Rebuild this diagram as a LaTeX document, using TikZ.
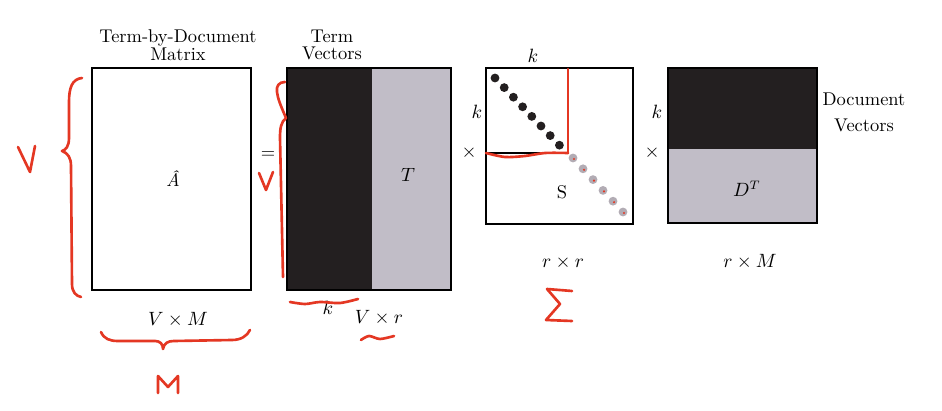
\documentclass[tikz,border=0pt]{standalone}
\usepackage{xcolor}
\definecolor{darkblock}{RGB}{35,31,32}
\definecolor{lightblock}{RGB}{193,189,199}
\definecolor{dotgray}{RGB}{178,172,180}
\definecolor{penred}{RGB}{228,55,35}
\begin{document}
\begin{tikzpicture}[x=0.02cm,y=-0.02cm,
    box/.style={draw=black,line width=0.9pt},
    pen/.style={draw=penred,line width=1.5pt,line cap=round,line join=round},
    every node/.style={font=\fontsize{10.5}{12}\selectfont,inner sep=0pt}]
\useasboundingbox (0,0) rectangle (942,411);
\fill[white] (0,0) rectangle (942,411);
\draw[box] (92,68) rectangle (251,290);
\node at (178,38) (titleA) {Term-by-Document};
\node at (178,54) (titleB) {Matrix};
\node at (173,179) (Ahat) {\textit{Â}};
\node at (178,320) (dimA) {$V\times M$};
\node at (268,155) (eq) {=};
\fill[darkblock] (287,68) rectangle (372,290);
\fill[lightblock] (372,68) rectangle (451,290);
\draw[box] (287,68) rectangle (451,290);
\node at (332,36) (termA) {Term};
\node at (332,53) (termB) {Vectors};
\node at (408,175) (T) {$T$};
\node at (328,308) (kT) {$k$};
\node at (379,318) (dimT) {$V\times r$};
\node at (469,153) (times1) {$\times$};
\draw[box] (486,68) rectangle (633,224);
\draw[black,line width=0.6pt] (486,153) -- (568,153) -- (568,68);
\foreach \i in {0,...,7}
  \fill[darkblock] (495+9.2*\i,78+9.6*\i) circle (4.4);
\foreach \i in {0,...,5}
  \fill[dotgray] (573+10*\i,158+10.8*\i) circle (4.4);
\node at (533,56) (kS) {$k$};
\node at (477,112) (kSl) {$k$};
\node at (562,192) (S) {S};
\node at (563,263) (dimS) {$r\times r$};
\node at (652,153) (times2) {$\times$};
\fill[darkblock] (668,68) rectangle (817,149);
\fill[lightblock] (668,149) rectangle (817,223);
\draw[box] (668,68) rectangle (817,223);
\node at (657,112) (kD) {$k$};
\node at (747,189) (DT) {$D^{T}$};
\node at (864,99) (docA) {Document};
\node at (864,125) (docB) {Vectors};
\node at (750,262) (dimD) {$r\times M$};
\draw[pen] (82,78) .. controls (72,79) and (69,88) .. (69,102) -- (69,138)
  .. controls (69,146) and (66,150) .. (62,151)
  .. controls (68,153) and (71,158) .. (71,166) -- (72,284)
  .. controls (72,292) and (76,296) .. (81,297);
\draw[pen] (18,147) -- (30,172) -- (35,146);
\draw[pen] (101,332) .. controls (104,339) and (110,341) .. (118,341) -- (155,341)
  .. controls (160,341) and (163,344) .. (163,349)
  .. controls (164,343) and (168,341) .. (174,341) -- (232,340)
  .. controls (241,340) and (247,336) .. (250,330);
\draw[pen] (158,393) -- (158,376) -- (168,387) -- (178,376) -- (178,393);
\draw[pen] (285,82) .. controls (279,82) and (276,86) .. (277,92)
  .. controls (278,99) and (280,104) .. (286,118)
  .. controls (281,122) and (280,128) .. (280,138) -- (283,277);
\draw[pen] (259,173) -- (266,190) -- (273,172);
\draw[pen] plot[smooth] coordinates {(290,302) (305,304) (320,302) (340,303) (358,299)};
\draw[pen] plot[smooth] coordinates {(361,340) (369,336) (380,339) (394,336)};
\draw[pen] (568,69) -- (568,153);
\draw[pen] plot[smooth] coordinates {(486,153) (505,157) (525,156) (545,153) (568,153)};
\foreach \i in {0,...,5}
  \fill[penred] (574+10*\i,159+10.8*\i) circle (1.2);
\draw[pen] (572,291) -- (547,289) -- (560,304) -- (546,320) -- (572,321);
\end{tikzpicture}
\end{document}
